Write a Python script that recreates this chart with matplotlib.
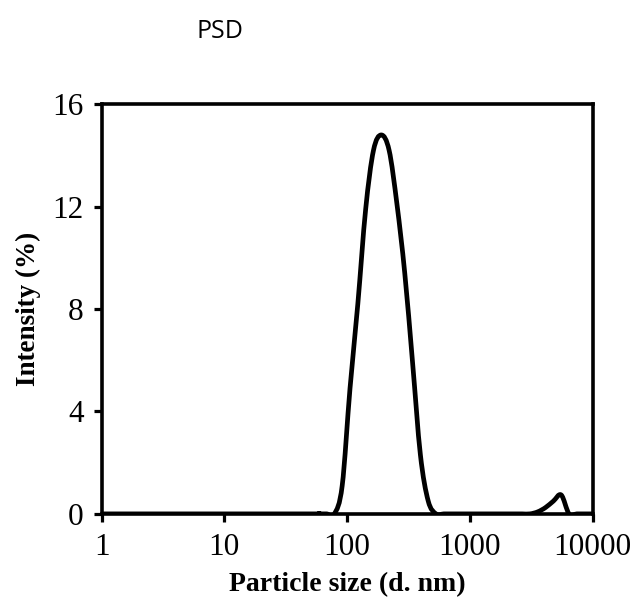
import matplotlib
matplotlib.use("Agg")
import matplotlib.pyplot as plt
import numpy as np
from matplotlib.path import Path
from matplotlib.patches import PathPatch
from matplotlib.ticker import FixedLocator, FixedFormatter

# Data, DLS size bins in nm and intensity in %
sizes_nm = [1, 10, 50.75, 58.77, 68.06, 78.82, 91.28, 105.7, 122.4, 141.8, 164.2,
            190.1, 220.2, 255.0, 295.3, 342.0, 396.1, 458.7, 531.2, 615.1,
            712.4, 1000, 2305, 2669, 3091, 3580, 4145, 4801, 5560, 6439,
            7456, 8635, 10000]
intensity = [0, 0, 0, 0, 0, 0.0, 1.1, 4.9, 8.2, 11.9, 14.2,
             14.8, 14.2, 12.1, 9.4, 5.9, 2.3, 0.5, 0.0, 0,
             0, 0, 0, 0, 0.0, 0.08, 0.25, 0.5, 0.74, 0.0,
             0, 0, 0]

x_ticks = [1, 10, 100, 1000, 10000]
x_tick_labels = ["1", "10", "100", "1000", "10000"]
y_ticks = [0, 4, 8, 12, 16]
y_tick_labels = ["0", "4", "8", "12", "16"]


def smooth_path(xs, ys):
    """Excel-like smoothed line: cubic Bezier through the points (in log-x space)."""
    u = np.log10(np.asarray(xs, float))
    v = np.asarray(ys, float)
    n = len(u)
    verts = [(xs[0], v[0])]
    codes = [Path.MOVETO]
    for i in range(n - 1):
        i0 = max(i - 1, 0)
        i3 = min(i + 2, n - 1)
        c1u = u[i] + (u[i + 1] - u[i0]) / 6.0
        c1v = v[i] + (v[i + 1] - v[i0]) / 6.0
        c2u = u[i + 1] - (u[i3] - u[i]) / 6.0
        c2v = v[i + 1] - (v[i3] - v[i]) / 6.0
        verts += [(10 ** c1u, c1v), (10 ** c2u, c2v), (xs[i + 1], v[i + 1])]
        codes += [Path.CURVE4] * 3
    return Path(verts, codes)


fig = plt.figure(figsize=(6.31, 6.06), dpi=100)
ax = fig.add_axes([0.161, 0.152, 0.778, 0.676])

ax.set_xscale("log")
ax.set_xlim(1, 10000)
ax.set_ylim(0, 16)
patch = PathPatch(smooth_path(sizes_nm, intensity), facecolor="none",
                  edgecolor="black", linewidth=3.4, joinstyle="round",
                  capstyle="round")
ax.add_patch(patch)

ax.xaxis.set_major_locator(FixedLocator(x_ticks))
ax.xaxis.set_major_formatter(FixedFormatter(x_tick_labels))
ax.xaxis.set_minor_locator(FixedLocator([]))
ax.yaxis.set_major_locator(FixedLocator(y_ticks))
ax.yaxis.set_major_formatter(FixedFormatter(y_tick_labels))

for s in ax.spines.values():
    s.set_linewidth(2.6)
ax.tick_params(direction="out", length=6, width=2.3, labelsize=22.5)
ax.tick_params(axis="x", pad=8)
ax.tick_params(axis="y", pad=7)
for lbl in ax.get_xticklabels() + ax.get_yticklabels():
    lbl.set_fontfamily("Liberation Serif")

ax.set_xlabel("Particle size (d. nm)", fontfamily="Liberation Serif",
              fontweight="bold", fontsize=20, labelpad=7)
ax.set_ylabel("Intensity (%)", fontfamily="Liberation Serif",
              fontweight="bold", fontsize=19.5, labelpad=8)

fig.text(0.348, 0.948, "PSD", fontfamily="Open Sans", fontsize=18,
         ha="center", va="center")

fig.savefig("out.png", dpi=100)
